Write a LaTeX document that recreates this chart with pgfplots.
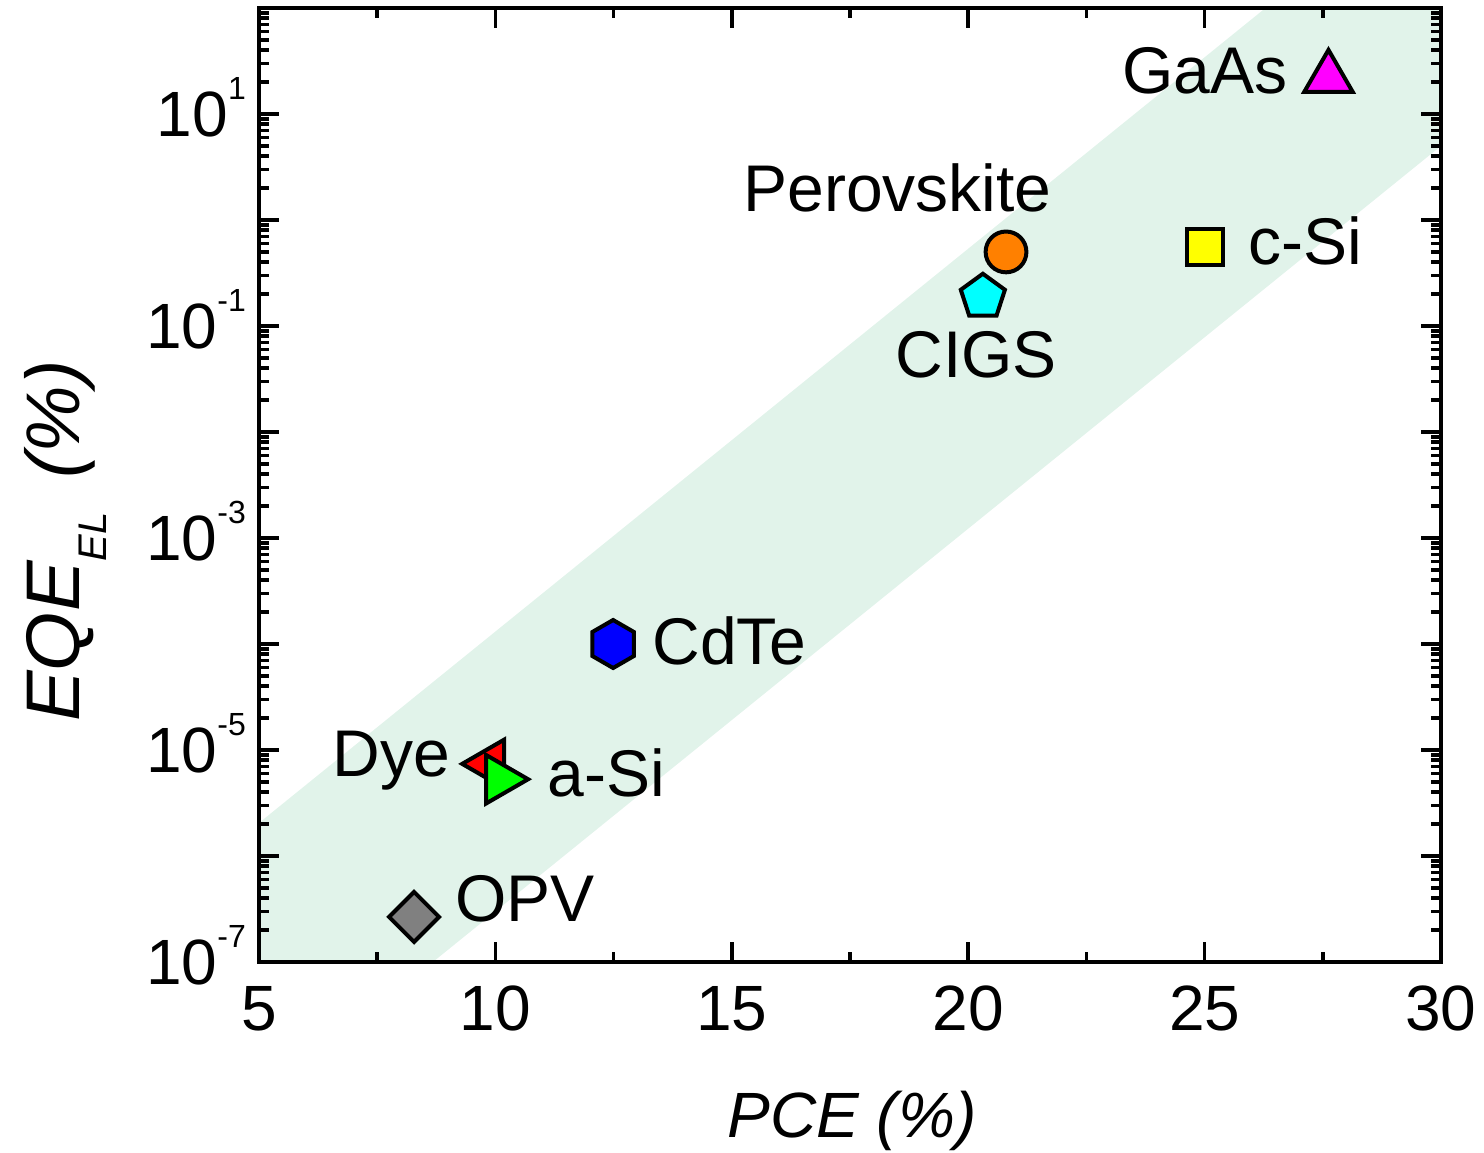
\documentclass[border=0pt]{standalone}
\usepackage{fontspec}
\setmainfont{Liberation Sans}
\usepackage{pgfplots}
\pgfplotsset{compat=1.18}

\definecolor{bandgreen}{RGB}{225,243,234}
\definecolor{gaas}{RGB}{255,0,255}
\definecolor{csi}{RGB}{255,255,0}
\definecolor{perov}{RGB}{255,128,0}
\definecolor{cigs}{RGB}{0,255,255}
\definecolor{cdte}{RGB}{0,0,255}
\definecolor{dye}{RGB}{255,0,0}
\definecolor{asi}{RGB}{0,255,0}
\definecolor{opv}{RGB}{128,128,128}

% regular polygon marks, mark size = circumradius
\pgfdeclareplotmark{tri*}{%
  \pgfpathmoveto{\pgfqpointpolar{90}{\pgfplotmarksize}}%
  \pgfpathlineto{\pgfqpointpolar{210}{\pgfplotmarksize}}%
  \pgfpathlineto{\pgfqpointpolar{330}{\pgfplotmarksize}}%
  \pgfpathclose\pgfusepathqfillstroke}
\pgfdeclareplotmark{pent*}{%
  \pgfpathmoveto{\pgfqpointpolar{90}{\pgfplotmarksize}}%
  \pgfpathlineto{\pgfqpointpolar{162}{\pgfplotmarksize}}%
  \pgfpathlineto{\pgfqpointpolar{234}{\pgfplotmarksize}}%
  \pgfpathlineto{\pgfqpointpolar{306}{\pgfplotmarksize}}%
  \pgfpathlineto{\pgfqpointpolar{18}{\pgfplotmarksize}}%
  \pgfpathclose\pgfusepathqfillstroke}
\pgfdeclareplotmark{hex*}{%
  \pgfpathmoveto{\pgfqpointpolar{90}{\pgfplotmarksize}}%
  \pgfpathlineto{\pgfqpointpolar{150}{\pgfplotmarksize}}%
  \pgfpathlineto{\pgfqpointpolar{210}{\pgfplotmarksize}}%
  \pgfpathlineto{\pgfqpointpolar{270}{\pgfplotmarksize}}%
  \pgfpathlineto{\pgfqpointpolar{330}{\pgfplotmarksize}}%
  \pgfpathlineto{\pgfqpointpolar{30}{\pgfplotmarksize}}%
  \pgfpathclose\pgfusepathqfillstroke}

\newcommand{\tenpow}[1]{10\smash{\raisebox{18.5pt}{\fontsize{16}{16}\selectfont #1}}}

\pgfplotsset{device/.style={only marks, line width=2pt, draw=black, line join=miter}}

\begin{document}
\begin{tikzpicture}
\useasboundingbox (-129.5pt,-95pt) rectangle (612.5pt,481pt);
\begin{axis}[
  scale only axis,
  width=591pt, height=477pt,
  xmin=5, xmax=30,
  ymode=log, ymin=1e-7, ymax=1e2,
  xtick={5,10,...,30},
  minor x tick num=1,
  ytick={1e-7,1e-6,1e-5,1e-4,1e-3,1e-2,1e-1,1e0,1e1,1e2},
  yticklabels={\tenpow{-7},,\tenpow{-5},,\tenpow{-3},,\tenpow{-1},,\tenpow{1},},
  tick align=inside,
  xtick pos=both, ytick pos=both,
  major tick length=10pt, minor tick length=5pt,
  every tick/.style={black, line width=1.8pt},
  axis line style={line width=2pt},
  /pgf/number format/assume math mode=true,
  ticklabel style={font=\fontsize{32}{32}\selectfont},
  yticklabel style={xshift=-3pt},
  xticklabel style={yshift=-8.5pt},
  axis on top,
  clip=true,
]
% shaded trend band
\addplot[fill=bandgreen, draw=none, forget plot]
  coordinates {(5,2.05e-6) (30,2190) (30,5.0) (5,4.7e-9)} -- cycle;

% GaAs
\addplot[device, mark=tri*, mark size=14pt, fill=gaas] coordinates {(27.62,21.9)};
% c-Si
\addplot[device, mark=square*, mark size=9pt, fill=csi] coordinates {(25.01,0.556)};
% Perovskite
\addplot[device, mark=*, mark size=10.2pt, fill=perov] coordinates {(20.80,0.50)};
% CIGS
\addplot[device, mark=pent*, mark size=11.6pt, fill=cigs] coordinates {(20.31,0.188)};
% CdTe
\addplot[device, mark=hex*, mark size=12pt, fill=cdte] coordinates {(12.49,1.0e-4)};
% Dye
\addplot[device, mark=tri*, mark size=14pt, fill=dye, mark options={rotate=90}] coordinates {(9.89,7.4e-6)};
% a-Si
\addplot[device, mark=tri*, mark size=14pt, fill=asi, mark options={rotate=-90}] coordinates {(10.10,5.3e-6)};
% OPV
\addplot[device, mark=square*, mark size=8.84pt, fill=opv, mark options={rotate=45}] coordinates {(8.28,2.66e-7)};
\end{axis}

\begin{scope}[every node/.style={inner sep=0pt, anchor=base west, font=\fontsize{33}{33}\selectfont}]
\node at (431.5pt,434pt) {GaAs};
\node at (494.5pt,348.5pt) {c-Si};
\node at (242pt,375pt) {Perovskite};
\node at (318pt,292pt) {CIGS};
\node at (196.5pt,148.5pt) {CdTe};
\node at (36.5pt,92.5pt) {Dye};
\node at (144pt,82.5pt) {a-Si};
\node at (98pt,20pt) {OPV};
\end{scope}

% axis titles
\node[inner sep=0pt, anchor=base, font=\fontsize{32}{32}\selectfont\itshape] at (296.5pt,-87.5pt) {PCE (\%)};
\node[inner sep=0pt, anchor=base, rotate=90, font=\fontsize{38}{38}\selectfont\itshape] at (-89.5pt,210.5pt)
  {EQE\raisebox{-13.5pt}{\fontsize{20}{20}\selectfont EL}\hspace{17pt}(\%)};
\end{tikzpicture}
\end{document}
